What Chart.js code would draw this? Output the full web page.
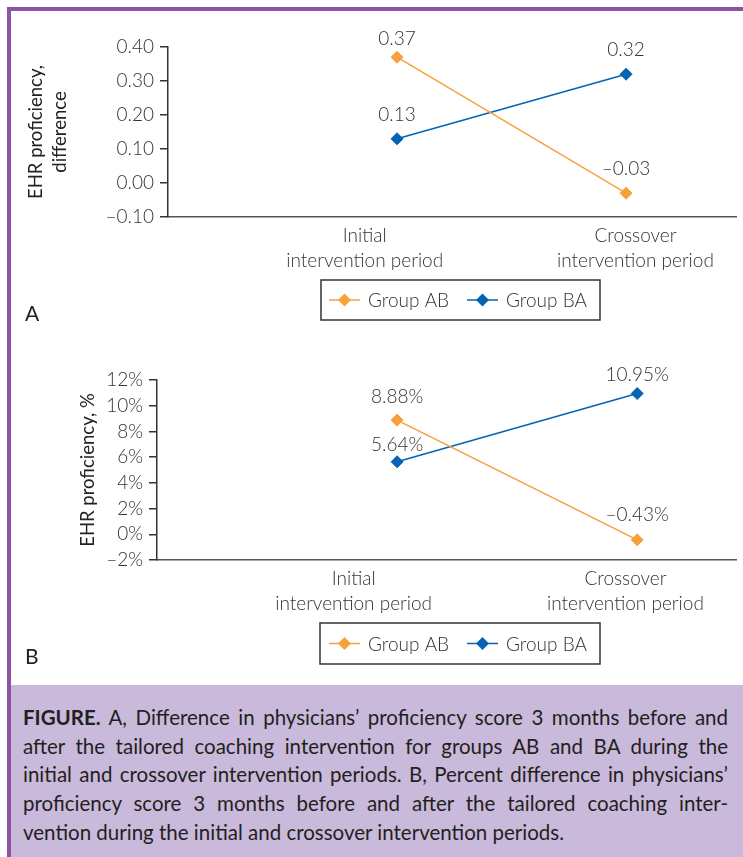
<!DOCTYPE html>
<html><head><meta charset="utf-8">
<script src="https://cdn.jsdelivr.net/npm/chart.js@4.4.1/dist/chart.umd.min.js"></script>
<style>
html,body{margin:0;padding:0;background:#fff;}
body{width:743px;height:857px;position:relative;overflow:hidden;font-family:Lato,sans-serif;}
#topbar{position:absolute;left:7px;top:7px;width:736px;height:4px;background:#8b55a7;}
#leftbar{position:absolute;left:7px;top:7px;width:4px;height:850px;background:#8b55a7;}
canvas{position:absolute;left:11px;}
#cA{top:11px;}
#cB{top:340px;}
.panel{position:absolute;left:25px;font:400 21px Lato,sans-serif;color:#222;line-height:1;}
#caption{position:absolute;left:11px;top:685px;width:732px;height:172px;background:#c9b9db;box-sizing:border-box;padding:18px 15px 0 12px;font:400 20.5px Lato,sans-serif;color:#231f20;line-height:28.7px;}
#caption span{display:block;text-align:justify;text-align-last:justify;white-space:nowrap;}
#caption span.last{text-align-last:left;}
#caption b{font-weight:700;}
</style></head>
<body>
<div id="topbar"></div><div id="leftbar"></div>
<canvas id="cA" width="732" height="320"></canvas>
<canvas id="cB" width="732" height="345"></canvas>
<div class="panel" style="top:302px">A</div>
<div class="panel" style="top:645px">B</div>
<div id="caption">
<span><b>FIGURE.</b> A, Difference in physicians’ proficiency score 3 months before and</span>
<span>after the tailored coaching intervention for groups AB and BA during the</span>
<span>initial and crossover intervention periods. B, Percent difference in physicians’</span>
<span>proficiency score 3 months before and after the tailored coaching inter-</span>
<span class="last">vention during the initial and crossover intervention periods.</span>
</div>
<script>
// ---- data ----
const xLabels = [['Initial', 'intervention period'], ['Crossover', 'intervention period']];
const seriesNames = ['Group AB', 'Group BA'];
const diffAB = [0.37, -0.03];
const diffBA = [0.13, 0.32];
const pctAB = [8.88, -0.43];
const pctBA = [5.64, 10.95];
const yTicksA = [-0.10, 0.00, 0.10, 0.20, 0.30, 0.40];
const yTicksB = [-2, 0, 2, 4, 6, 8, 10, 12];
const titleA = ['EHR proficiency,', 'difference'];
const titleB = 'EHR proficiency, %';

const ORANGE = '#f7a13b';
const BLUE = '#0563b4';
const TXT = '#333333';
const LIGHT = {family: 'Lato', size: 19, weight: '300', lineHeight: 25 / 19};

const dash = s => s.replace('-', '\u2013');
const fmtA = v => dash(Number(v).toFixed(2));
const fmtLabelB = v => dash(Number(v).toFixed(2)) + '%';

const pointLabels = {
  id: 'pointLabels',
  afterDatasetsDraw(chart, args, o) {
    const ctx = chart.ctx;
    ctx.save();
    ctx.font = o.font; ctx.fillStyle = o.color;
    ctx.textAlign = 'center'; ctx.textBaseline = 'middle';
    chart.data.datasets.forEach((ds, di) => {
      const meta = chart.getDatasetMeta(di);
      meta.data.forEach((pt, i) => {
        ctx.fillText(o.format(ds.data[i].y), pt.x, pt.y - o.offsets[di][i]);
      });
    });
    ctx.restore();
  }
};

const boxLegend = {
  id: 'boxLegend',
  afterDraw(chart, args, o) {
    const ctx = chart.ctx;
    ctx.save();
    ctx.strokeStyle = '#333'; ctx.lineWidth = 1.5;
    ctx.strokeRect(o.left, o.top, o.width, o.height);
    const cy = o.top + o.height / 2;
    ctx.font = o.font; ctx.textBaseline = 'middle'; ctx.textAlign = 'left';
    chart.data.datasets.forEach((ds, i) => {
      const x0 = o.left + o.itemX[i];
      ctx.strokeStyle = ds.borderColor; ctx.lineWidth = 1.5;
      ctx.beginPath(); ctx.moveTo(x0, cy); ctx.lineTo(x0 + 31, cy); ctx.stroke();
      const cx = x0 + 15.5, r = 6.5;
      ctx.fillStyle = ds.backgroundColor;
      ctx.beginPath(); ctx.moveTo(cx - r, cy); ctx.lineTo(cx, cy - r); ctx.lineTo(cx + r, cy); ctx.lineTo(cx, cy + r); ctx.closePath(); ctx.fill();
      ctx.fillStyle = TXT;
      ctx.fillText(ds.label, x0 + 39, cy + 1);
    });
    ctx.restore();
  }
};

function makeDataset(name, vals, color) {
  return {
    label: name,
    data: vals.map((v, i) => ({x: i + 1, y: v})),
    borderColor: color, backgroundColor: color,
    borderWidth: 1.5, tension: 0,
    pointStyle: 'rectRot', pointRadius: 6, pointHoverRadius: 6,
    pointBorderWidth: 1, pointBackgroundColor: color, pointBorderColor: color
  };
}

function makeChart(id, cfg) {
  return new Chart(document.getElementById(id), {
    type: 'line',
    data: {datasets: [makeDataset(seriesNames[0], cfg.ab, ORANGE), makeDataset(seriesNames[1], cfg.ba, BLUE)]},
    plugins: [pointLabels, boxLegend],
    options: {
      responsive: false, animation: false, devicePixelRatio: 1,
      layout: {padding: {top: cfg.top, right: cfg.right, left: 0, bottom: 0}},
      plugins: {
        legend: {display: false}, tooltip: {enabled: false},
        pointLabels: {font: '300 19px Lato', color: TXT, format: cfg.fmtLabel, offsets: cfg.offsets},
        boxLegend: Object.assign({font: '300 19px Lato'}, cfg.legend)
      },
      scales: {
        x: {
          type: 'linear', min: 0, max: cfg.xmax,
          afterBuildTicks: s => { s.ticks = cfg.labelPos.map(v => ({value: v})); },
          afterFit: s => { s.height = cfg.xh; },
          grid: {display: false, drawTicks: false, tickLength: 0},
          border: {display: true, color: '#555', width: 1.5},
          ticks: {callback: (v, i) => xLabels[i], font: LIGHT, color: TXT, padding: 6, maxRotation: 0, autoSkip: false}
        },
        y: {
          min: cfg.ymin, max: cfg.ymax,
          afterBuildTicks: s => { s.ticks = cfg.yticks.map(v => ({value: v})); },
          afterFit: s => { s.width = cfg.yw; },
          grid: {drawOnChartArea: false, drawTicks: true, tickLength: 8, color: '#333', lineWidth: 1.5},
          border: {display: true, color: '#333', width: 1.5},
          ticks: {callback: cfg.fmtTick, font: LIGHT, color: TXT, padding: 6, autoSkip: false},
          title: {display: true, text: cfg.title, font: {family: 'Lato', size: 18.5, lineHeight: 1.3}, color: '#222', padding: {top: cfg.tpad, bottom: 0}}
        }
      }
    }
  });
}

makeChart('cA', {
  ab: diffAB, ba: diffBA, top: 36, right: 5, xmax: 2.48, xh: 114, yw: 157,
  labelPos: [0.859, 2.041],
  ymin: -0.1, ymax: 0.4, yticks: yTicksA, fmtTick: fmtA, fmtLabel: fmtA,
  title: titleA, tpad: 13,
  offsets: [[18.7, 24.7], [23.8, 24]],
  legend: {left: 310, top: 269, width: 279, height: 40, itemX: [8, 146]}
});

makeChart('cB', {
  ab: pctAB, ba: pctBA, top: 40, right: 0, xmax: 2.4115, xh: 125, yw: 146,
  labelPos: [0.819, 1.951],
  ymin: -2, ymax: 12, yticks: yTicksB, fmtTick: v => dash(String(v)) + '%', fmtLabel: fmtLabelB,
  title: titleB, tpad: 65,
  offsets: [[23.4, 24.8], [16.8, 18.5]],
  legend: {left: 309, top: 283, width: 280, height: 41, itemX: [9, 147]}
});
</script>
</body></html>
